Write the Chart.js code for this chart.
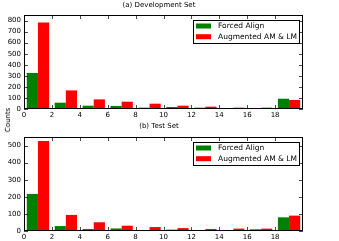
<!DOCTYPE html>
<html>
<head>
<meta charset="utf-8">
<script src="https://cdn.jsdelivr.net/npm/chart.js@4.4.0/dist/chart.umd.min.js"></script>
<style>
  html, body { margin: 0; padding: 0; background: #fff; }
  #wrap { position: relative; width: 339px; height: 241px; }
  #c1 { position: absolute; left: 0; top: 0; }
  #c2 { position: absolute; left: 0; top: 120px; }
  #ylab { position: absolute; left: 8px; top: 120px; font: 7px "DejaVu Sans"; color: #000;
          transform: translate(-50%, -50%) rotate(-90deg); white-space: nowrap; }
</style>
</head>
<body>
<div id="wrap">
  <canvas id="c1" width="339" height="120"></canvas>
  <canvas id="c2" width="339" height="121"></canvas>
  <div id="ylab">Counts</div>
</div>
<script>
// bins of width 2 from 0 to 20
const bins = ['0-2', '2-4', '4-6', '6-8', '8-10', '10-12', '12-14', '14-16', '16-18', '18-20'];
const xTicks = [0, 2, 4, 6, 8, 10, 12, 14, 16, 18];
const devYTicks = [0, 100, 200, 300, 400, 500, 600, 700, 800];
const testYTicks = [0, 100, 200, 300, 400, 500];

const devForced = [326, 57, 30, 28, 12, 18, 12, 3, 3, 93];
const devAugmented = [782, 168, 87, 66, 48, 30, 21, 12, 12, 82];
const testForced = [217, 29, 12, 15, 6, 8, 6, 3, 10, 80];
const testAugmented = [527, 94, 51, 31, 23, 17, 12, 14, 14, 90];

const seriesNames = ['Forced Align', 'Augmented AM & LM'];
const seriesColors = ['#008000', '#ff0000'];

const font = 'DejaVu Sans';

// matplotlib-like frame, inward ticks, title and legend
const mplPlugin = {
    id: 'mpl',
    afterDraw(chart, args, opts) {
        const c = chart.ctx;
        const a = chart.chartArea;
        c.save();
        c.strokeStyle = '#000';
        c.lineWidth = 1;
        c.strokeRect(a.left + 0.5, a.top + 0.5, a.right - a.left - 1, a.bottom - a.top - 1);
        c.lineWidth = 0.7;
        c.beginPath();
        chart.scales.x2.ticks.forEach(t => {
            const px = Math.round(chart.scales.x2.getPixelForValue(t.value)) + 0.5;
            c.moveTo(px, a.bottom); c.lineTo(px, a.bottom - 4);
            c.moveTo(px, a.top); c.lineTo(px, a.top + 4);
        });
        chart.scales.y.ticks.forEach(t => {
            const py = Math.round(chart.scales.y.getPixelForValue(t.value)) + 0.5;
            c.moveTo(a.left, py); c.lineTo(a.left + 4, py);
            c.moveTo(a.right, py); c.lineTo(a.right - 4, py);
        });
        c.stroke();

        // title
        c.fillStyle = '#000';
        c.font = '7px "' + font + '"';
        c.textAlign = 'center';
        c.textBaseline = 'middle';
        c.fillText(opts.title, 159, opts.titleY);

        // legend box
        const bx = a.right - 110, by = a.top + 5, bw = 106, bh = 23;
        c.fillStyle = '#fff';
        c.fillRect(bx, by, bw, bh);
        c.strokeStyle = '#000';
        c.lineWidth = 1;
        c.strokeRect(bx + 0.5, by + 0.5, bw, bh);
        c.font = '7.5px "' + font + '"';
        c.textAlign = 'left';
        chart.data.datasets.forEach((ds, i) => {
            const cy = by + 6 + i * 10.7;
            c.fillStyle = ds.backgroundColor;
            c.fillRect(bx + 3, cy - 2.5, 15, 5);
            c.fillStyle = '#000';
            c.fillText(ds.label, bx + 25, cy);
        });
        c.restore();
    }
};

function makeChart(id, forced, augmented, yMax, yTicks, padTop, xHeight, title, titleY) {
    return new Chart(document.getElementById(id), {
        type: 'bar',
        data: {
            labels: bins,
            datasets: [
                { label: seriesNames[0], data: forced, backgroundColor: seriesColors[0] },
                { label: seriesNames[1], data: augmented, backgroundColor: seriesColors[1] }
            ]
        },
        options: {
            responsive: false,
            animation: false,
            layout: { padding: { left: 0, right: 36, top: padTop, bottom: 0 } },
            datasets: { bar: { categoryPercentage: 0.8, barPercentage: 1.0, borderWidth: 0 } },
            plugins: {
                legend: { display: false },
                tooltip: { enabled: false },
                mpl: { title: title, titleY: titleY }
            },
            scales: {
                x: { display: false },
                x2: {
                    type: 'linear',
                    position: 'bottom',
                    offset: false,
                    min: 0,
                    max: 20,
                    afterBuildTicks: s => { s.ticks = xTicks.map(v => ({ value: v })); },
                    afterFit: s => { s.height = xHeight; },
                    grid: { display: false, drawTicks: false, offset: false },
                    border: { display: false },
                    ticks: { color: '#000', font: { family: font, size: 7 }, padding: 2, maxRotation: 0, autoSkip: false }
                },
                y: {
                    min: 0,
                    max: yMax,
                    afterBuildTicks: s => { s.ticks = yTicks.map(v => ({ value: v })); },
                    afterFit: s => { s.width = 24; },
                    grid: { display: false, drawTicks: false },
                    border: { display: false },
                    ticks: { color: '#000', font: { family: font, size: 7 }, padding: 3, autoSkip: false }
                }
            }
        },
        plugins: [mplPlugin]
    });
}

makeChart('c1', devForced, devAugmented, 850, devYTicks, 15, 11, '(a) Development Set', 5);
makeChart('c2', testForced, testAugmented, 550, testYTicks, 17, 10, '(b) Test Set', 6);
</script>
</body>
</html>
